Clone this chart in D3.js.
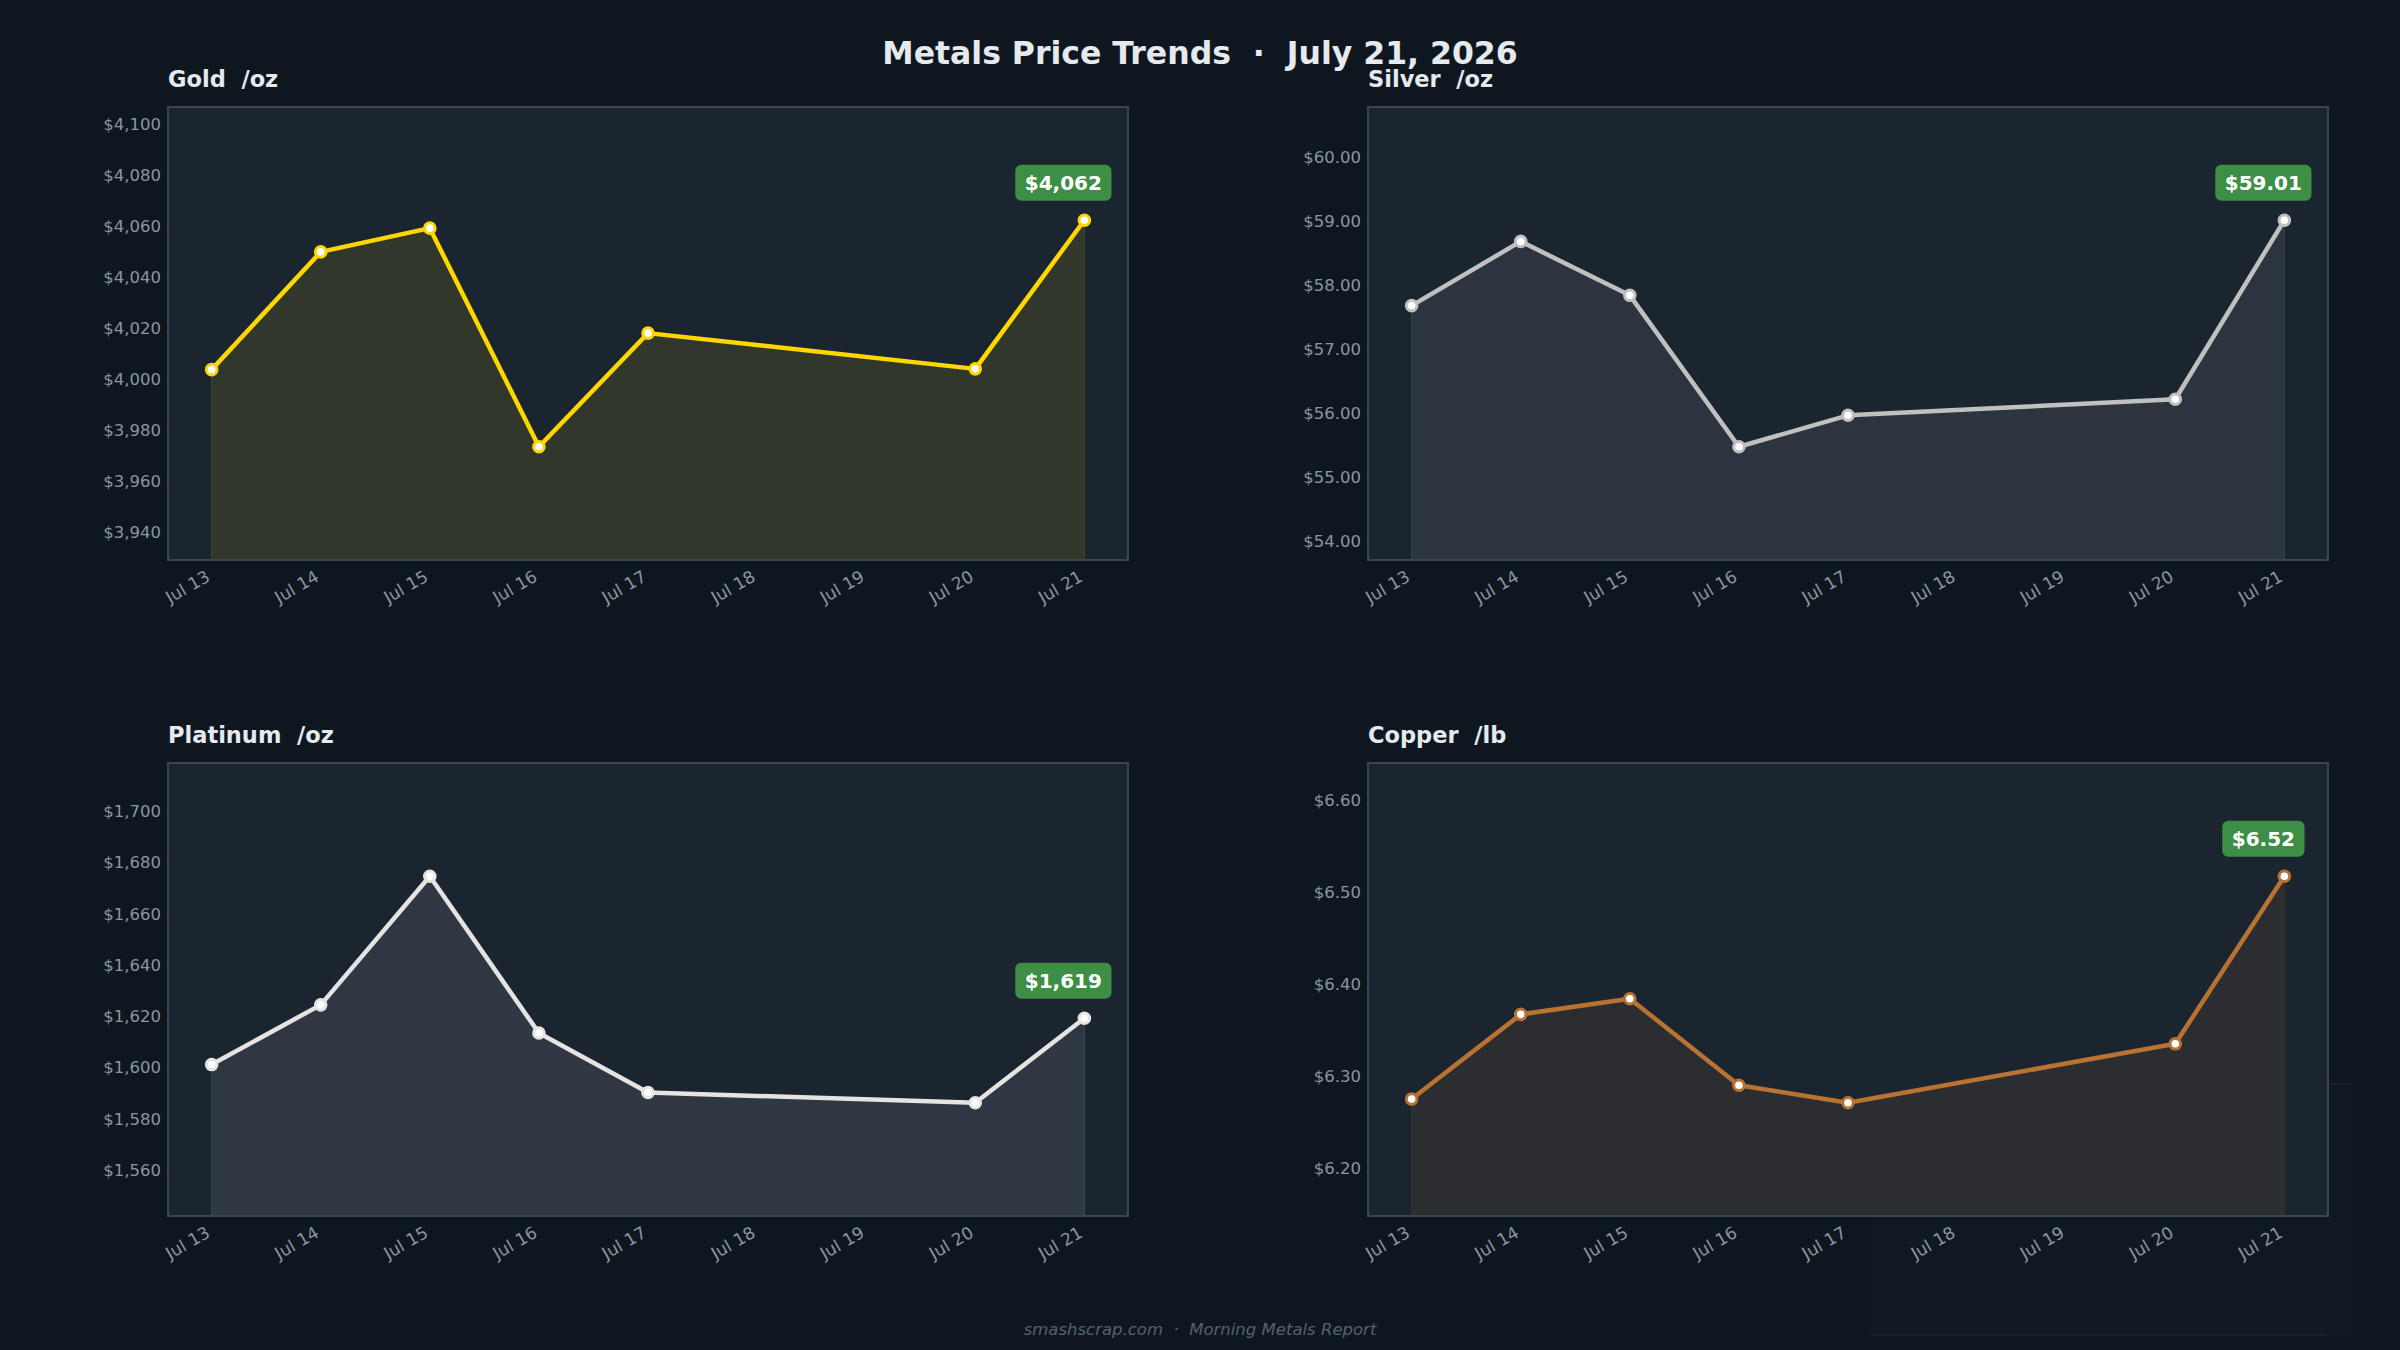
<!DOCTYPE html>
<html>
<head>
<meta charset="utf-8">
<script src="https://cdn.jsdelivr.net/npm/d3@7"></script>
<style>
  html, body { margin: 0; padding: 0; background: #0e1720; }
  text { font-family: "DejaVu Sans", sans-serif; white-space: pre; }
</style>
</head>
<body>
<div id="chart"></div>
<script>
/* * * * * * * * * * * * * *
*   metals price panels    *
* * * * * * * * * * * * * */

// trading days (weekend 18/19 skipped)
const dates = ["2026-07-13", "2026-07-14", "2026-07-15", "2026-07-16", "2026-07-17", "2026-07-20", "2026-07-21"];

// closing prices
const gold = [4003.7, 4049.8, 4059.1, 3973.5, 4018.0, 4004.0, 4062.2];
const silver = [57.68, 58.68, 57.84, 55.48, 55.97, 56.22, 59.01];
const platinum = [1601.2, 1624.5, 1674.7, 1613.5, 1590.3, 1586.3, 1619.3];
const copper = [6.275, 6.367, 6.384, 6.290, 6.271, 6.335, 6.517];

const titles = ["Gold  /oz", "Silver  /oz", "Platinum  /oz", "Copper  /lb"];
const series = [gold, silver, platinum, copper];
const colors = ["#ffd700", "#c0c0c0", "#e5e4e2", "#b87333"];
const formats = ["$,.0f", "$,.2f", "$,.0f", "$,.2f"];

const W = 2400, H = 1350;
const parseDate = d3.timeParse("%Y-%m-%d");
const days = dates.map(parseDate);

let svg = d3.select("#chart").append("svg")
    .attr("width", W)
    .attr("height", H);

svg.append("rect")
    .attr("width", W)
    .attr("height", H)
    .attr("fill", "#0e1720");

// faint leftover box bottom right
svg.append("rect")
    .attr("x", 1871).attr("y", 1083)
    .attr("width", 481).attr("height", 252)
    .attr("fill", "#16212d")
    .attr("opacity", 0.25);
svg.append("line")
    .attr("x1", 1871).attr("x2", 2327)
    .attr("y1", 1335).attr("y2", 1335)
    .attr("stroke", "#3b2229").attr("stroke-width", 1.5).attr("opacity", 0.6);
svg.append("line")
    .attr("x1", 2328).attr("x2", 2352)
    .attr("y1", 1084).attr("y2", 1084)
    .attr("stroke", "#3b2229").attr("stroke-width", 1.5).attr("opacity", 0.6);

// main title
svg.append("text")
    .attr("x", 1200)
    .attr("y", 64)
    .attr("text-anchor", "middle")
    .attr("font-size", 31.5)
    .attr("font-weight", "bold")
    .attr("fill", "#e6eaee")
    .text("Metals Price Trends  \u00b7  July 21, 2026");

// footer
svg.append("text")
    .attr("x", 1200)
    .attr("y", 1335)
    .attr("text-anchor", "middle")
    .attr("font-size", 16.5)
    .attr("font-style", "italic")
    .attr("fill", "#56616d")
    .text("smashscrap.com  \u00b7  Morning Metals Report");

const panelW = 960, panelH = 453;
const lefts = [168, 1368, 168, 1368];
const tops = [107, 107, 763, 763];

series.forEach((vals, i) => drawPanel(i, vals));

function drawPanel(i, vals) {
    let g = svg.append("g")
        .attr("transform", `translate(${lefts[i]}, ${tops[i]})`);

    let data = vals.map((v, j) => ({date: days[j], value: v}));

    // matplotlib-ish 5% x margins
    let first = days[0], last = days[days.length - 1];
    let span = last - first;
    let x = d3.scaleTime()
        .domain([new Date(+first - span * 0.05), new Date(+last + span * 0.05)])
        .range([0, panelW]);

    let lo = d3.min(vals), hi = d3.max(vals), r = hi - lo;
    let y = d3.scaleLinear()
        .domain([lo - r * 0.5, hi + r * 0.5])
        .range([panelH, 0]);

    g.append("rect")
        .attr("width", panelW)
        .attr("height", panelH)
        .attr("fill", "#1b2530");

    let area = d3.area()
        .x(d => x(d.date))
        .y0(panelH)
        .y1(d => y(d.value));

    g.append("path")
        .datum(data)
        .attr("d", area)
        .attr("fill", colors[i])
        .attr("fill-opacity", 0.1)
        .attr("stroke", colors[i])
        .attr("stroke-opacity", 0.12)
        .attr("stroke-width", 1.2);

    let line = d3.line()
        .x(d => x(d.date))
        .y(d => y(d.value));

    g.append("path")
        .datum(data)
        .attr("d", line)
        .attr("fill", "none")
        .attr("stroke", colors[i])
        .attr("stroke-width", 4.5)
        .attr("stroke-linejoin", "round")
        .attr("stroke-linecap", "round");

    g.selectAll(".dot")
        .data(data)
        .enter().append("circle")
        .attr("class", "dot")
        .attr("cx", d => x(d.date))
        .attr("cy", d => y(d.value))
        .attr("r", 5.3)
        .attr("fill", "#ffffff")
        .attr("stroke", colors[i])
        .attr("stroke-width", 3);

    // frame
    g.append("rect")
        .attr("width", panelW)
        .attr("height", panelH)
        .attr("fill", "none")
        .attr("stroke", "#3a4652")
        .attr("stroke-width", 2);

    // y axis
    let yAxis = g.append("g")
        .call(d3.axisLeft(y).ticks(6).tickFormat(d3.format(formats[i])).tickSize(0).tickPadding(7));
    yAxis.select(".domain").remove();
    yAxis.selectAll("text")
        .attr("font-family", "DejaVu Sans")
        .attr("font-size", 16.5)
        .attr("fill", "#8c959f");

    // x axis, every calendar day
    let xTicks = d3.timeDay.range(first, d3.timeDay.offset(last, 1));
    let xAxis = g.append("g")
        .attr("transform", `translate(0, ${panelH})`)
        .call(d3.axisBottom(x).tickValues(xTicks).tickFormat(d3.timeFormat("%b %-d")).tickSize(0));
    xAxis.select(".domain").remove();
    xAxis.selectAll("text")
        .attr("font-family", "DejaVu Sans")
        .attr("font-size", 17)
        .attr("fill", "#8c959f")
        .attr("text-anchor", "end")
        .attr("dy", 0)
        .attr("y", 0)
        .attr("transform", "translate(-1, 20) rotate(-30)");

    // panel title
    g.append("text")
        .attr("x", 0)
        .attr("y", -20)
        .attr("font-size", 22.5)
        .attr("font-weight", "bold")
        .attr("fill", "#e6eaee")
        .text(titles[i]);

    // latest price callout
    let lastPt = data[data.length - 1];
    let cx = x(lastPt.date) - 21, cy = y(lastPt.value) - 37.5;
    let call = g.append("g").attr("transform", `translate(${cx}, ${cy})`);
    let label = call.append("text")
        .attr("text-anchor", "middle")
        .attr("dy", "0.36em")
        .attr("font-size", 20)
        .attr("font-weight", "bold")
        .attr("fill", "#ffffff")
        .text(d3.format(formats[i])(lastPt.value));
    let bw = label.node().getComputedTextLength() + 19;
    call.insert("rect", "text")
        .attr("x", -bw / 2)
        .attr("y", -18)
        .attr("width", bw)
        .attr("height", 36)
        .attr("rx", 6)
        .attr("fill", "#3d8f45");
}
</script>
</body>
</html>
